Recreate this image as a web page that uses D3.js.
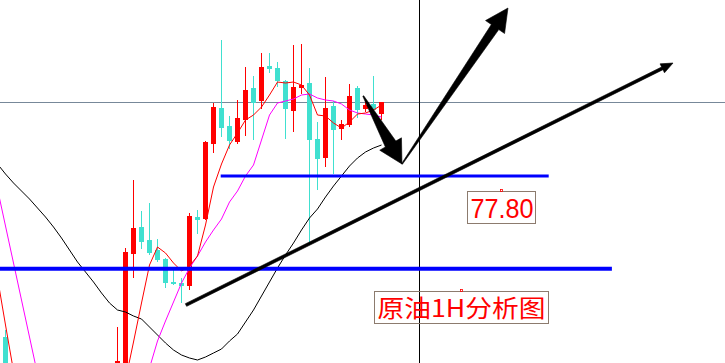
<!DOCTYPE html>
<html>
<head>
<meta charset="utf-8">
<script src="https://cdn.jsdelivr.net/npm/d3@7"></script>
<style>
  body { margin: 0; background: #fff; }
</style>
</head>
<body>
<div id="chart"></div>
<script>
// chart size
const width = 725;
const height = 363;

// 1H bars, oldest first (bar 0 sits just left of the frame)
const opens = [77.38, 76.995, 76.79, 76.63, 76.49, 76.37, 76.33, 76.30, 76.34, 76.29,
  76.35, 76.39, 76.44, 76.48, 76.58, 76.78, 76.83, 77.41, 77.545, 77.48,
  77.43, 77.385, 77.27, 77.265, 77.25, 77.595, 77.585, 77.96, 78.14, 78.05,
  77.97, 78.08, 78.24, 78.175, 78.35, 78.34, 78.275, 78.125, 78.24, 78.265,
  77.985, 77.89, 78.15, 78.035, 78.055, 78.24, 78.135, 78.16, 78.11];
const highs = [77.43, 77.03, 76.82, 76.68, 76.53, 76.43, 76.405, 76.37, 76.39, 76.37,
  76.43, 76.48, 76.53, 76.63, 76.78, 77.045, 77.44, 77.78, 77.625, 77.665,
  77.485, 77.39, 77.345, 77.29, 77.615, 77.63, 77.975, 78.165, 78.48, 78.10,
  78.18, 78.345, 78.30, 78.415, 78.415, 78.37, 78.28, 78.455, 78.46, 78.34,
  78.07, 78.295, 78.175, 78.08, 78.26, 78.25, 78.18, 78.30, 78.17];
const lows = [77.18, 76.755, 76.58, 76.455, 76.33, 76.28, 76.255, 76.23, 76.26, 76.24,
  76.29, 76.33, 76.37, 76.42, 76.54, 76.74, 76.805, 77.29, 77.435, 77.405,
  77.37, 77.24, 77.255, 77.165, 77.23, 77.51, 77.58, 77.915, 77.995, 77.935,
  77.96, 78.00, 77.98, 78.135, 78.315, 78.245, 77.985, 78.02, 78.21, 77.47,
  77.73, 77.845, 77.81, 77.98, 78.045, 78.09, 78.12, 78.095, 78.08];
const closes = [77.22, 76.79, 76.63, 76.49, 76.37, 76.33, 76.30, 76.34, 76.29, 76.35,
  76.39, 76.44, 76.48, 76.58, 76.755, 76.875, 77.42, 77.54, 77.47, 77.415,
  77.38, 77.265, 77.26, 77.25, 77.60, 77.58, 77.97, 78.145, 78.04, 77.975,
  78.09, 78.23, 78.165, 78.345, 78.335, 78.275, 78.135, 78.245, 78.255, 77.98,
  77.885, 78.14, 78.03, 78.06, 78.20, 78.13, 78.155, 78.13, 78.17];

// moving averages
const maFast = [77.29, 77.055, 76.825, 76.63, 76.48, 76.405, 76.355, 76.33, 76.33, 76.34,
  76.37, 76.405, 76.455, 76.52, 76.59, 76.63, 76.78, 76.97, 77.165, 77.355,
  77.445, 77.415, 77.365, 77.325, 77.35, 77.40, 77.555, 77.745, 77.86, 77.955,
  78.015, 78.08, 78.105, 78.145, 78.205, 78.27, 78.265, 78.27, 78.255, 78.205,
  78.105, 78.10, 78.065, 78.04, 78.07, 78.11, 78.115, 78.13, 78.155];
const maMid = [77.735, 77.55, 77.365, 77.18, 76.995, 76.81, 76.655, 76.52, 76.405, 76.32,
  76.26, 76.23, 76.22, 76.23, 76.265, 76.345, 76.455, 76.58, 76.71, 76.84,
  76.975, 77.075, 77.17, 77.265, 77.34, 77.40, 77.47, 77.53, 77.585, 77.67,
  77.725, 77.80, 77.855, 77.98, 78.105, 78.165, 78.175, 78.185, 78.205, 78.21,
  78.19, 78.18, 78.175, 78.16, 78.13, 78.115, 78.11, 78.105, 78.095];
const maSlow = [77.86, 77.81, 77.765, 77.725, 77.685, 77.64, 77.595, 77.545, 77.49, 77.43,
  77.37, 77.32, 77.27, 77.215, 77.165, 77.13, 77.12, 77.10, 77.085, 77.045,
  77.005, 76.965, 76.93, 76.905, 76.89, 76.88, 76.895, 76.915, 76.935, 76.975,
  77.01, 77.07, 77.13, 77.20, 77.27, 77.34, 77.405, 77.465, 77.53, 77.59,
  77.635, 77.695, 77.75, 77.80, 77.85, 77.89, 77.92, 77.94, 77.955];

// levels and annotations, in [bar, price]
const lastPrice = 78.17;
const cursorBar = 52.69;
const supportLine = [[27.9, 77.80], [68.9, 77.80]];
const lowerLine = [[0, 77.3365], [76.8, 77.3365]];
const trendArrow = [[23.56, 77.155], [84.44, 78.365]];
const dropArrow = [[45.72, 78.2], [50.56, 77.86]];
const riseArrow = [[50.56, 77.86], [63.81, 78.64]];
const priceLabel = "77.80";
const priceLabelAt = [58.7, 77.725];
const titleLabel = "原油1H分析图";
const titleLabelAt = [47.05, 77.225];

const upColor = "#ff0000";
const downColor = "#40e0d0";

const x = d3.scaleLinear().domain([0, 90.9375]).range([-2.5, width]);
const y = d3.scaleLinear().domain([76.865, 78.68]).range([height, 0]);

const svg = d3.select("#chart")
  .append("svg")
  .attr("width", width)
  .attr("height", height)
  .style("display", "block");

svg.append("defs").append("clipPath").attr("id", "frame")
  .append("rect").attr("width", width).attr("height", height);

const plot = svg.append("g").attr("clip-path", "url(#frame)");

// horizontal price line and vertical cursor
plot.append("line")
  .attr("x1", 0).attr("x2", width)
  .attr("y1", Math.round(y(lastPrice)) + 0.5).attr("y2", Math.round(y(lastPrice)) + 0.5)
  .attr("stroke", "#778899");

plot.append("line")
  .attr("x1", Math.round(x(cursorBar)) + 0.5).attr("x2", Math.round(x(cursorBar)) + 0.5)
  .attr("y1", 0).attr("y2", height)
  .attr("stroke", "#000");

// candles
const bars = opens.map((o, i) => ({ i, o, h: highs[i], l: lows[i], c: closes[i] }));

const candle = plot.selectAll("g.candle")
  .data(bars)
  .enter()
  .append("g")
  .attr("class", "candle")
  .attr("shape-rendering", "crispEdges");

candle.append("line")
  .attr("x1", (d) => Math.floor(x(d.i)) + 0.5)
  .attr("x2", (d) => Math.floor(x(d.i)) + 0.5)
  .attr("y1", (d) => y(d.h))
  .attr("y2", (d) => y(d.l))
  .attr("stroke", (d) => (d.c >= d.o ? upColor : downColor));

candle.append("rect")
  .attr("x", (d) => Math.floor(x(d.i)) - 2)
  .attr("width", 5)
  .attr("y", (d) => y(Math.max(d.o, d.c)))
  .attr("height", (d) => Math.max(2, Math.abs(y(d.o) - y(d.c))))
  .attr("fill", (d) => (d.c >= d.o ? upColor : downColor));

// moving averages
const maLine = d3.line().x((d, i) => x(i)).y((d) => y(d));
[[maSlow, "#000000"], [maMid, "#ff00ff"], [maFast, "#ff0000"]].forEach(([vals, col]) => {
  plot.append("path")
    .attr("d", maLine(vals))
    .attr("fill", "none")
    .attr("stroke", col)
    .attr("stroke-width", 1);
});

// blue levels
plot.append("line")
  .attr("x1", x(supportLine[0][0])).attr("x2", x(supportLine[1][0]))
  .attr("y1", y(supportLine[0][1])).attr("y2", y(supportLine[1][1]))
  .attr("stroke", "#0000ff").attr("stroke-width", 3);

plot.append("line")
  .attr("x1", x(lowerLine[0][0]) - 5).attr("x2", x(lowerLine[1][0]))
  .attr("y1", y(lowerLine[0][1])).attr("y2", y(lowerLine[1][1]))
  .attr("stroke", "#0000ff").attr("stroke-width", 4);

// tapered arrow polygon
function arrowShape(pts, w0, w1, headLen, headW) {
  const [x0, y0] = [x(pts[0][0]), y(pts[0][1])];
  const [x1, y1] = [x(pts[1][0]), y(pts[1][1])];
  const len = Math.hypot(x1 - x0, y1 - y0);
  const ux = (x1 - x0) / len, uy = (y1 - y0) / len;
  const px = -uy, py = ux;
  const bx = x1 - ux * headLen, by = y1 - uy * headLen;
  return [
    [x0 + px * w0 / 2, y0 + py * w0 / 2],
    [bx + px * w1 / 2, by + py * w1 / 2],
    [bx + px * headW / 2, by + py * headW / 2],
    [x1, y1],
    [bx - px * headW / 2, by - py * headW / 2],
    [bx - px * w1 / 2, by - py * w1 / 2],
    [x0 - px * w0 / 2, y0 - py * w0 / 2],
  ];
}

[
  [trendArrow, 3, 3, 12, 10],
  [dropArrow, 1, 12, 23, 25],
  [riseArrow, 1, 9, 23, 23],
].forEach(([pts, w0, w1, hl, hw]) => {
  plot.append("polygon")
    .attr("points", arrowShape(pts, w0, w1, hl, hw).map((p) => p.join(",")).join(" "))
    .attr("fill", "#000")
    .attr("stroke", "#000")
    .attr("stroke-width", 0.6)
    .attr("stroke-linejoin", "miter");
});

// text labels with boxes
function labelBox(at, w, h, txt, size, textLen, family, base) {
  const bx = Math.round(x(at[0])) + 0.5;
  const by = Math.round(y(at[1])) + 0.5;
  const g = plot.append("g");
  g.append("rect")
    .attr("x", bx).attr("y", by)
    .attr("width", w).attr("height", h)
    .attr("fill", "none")
    .attr("stroke", "#8c7b6e");
  g.append("rect")
    .attr("x", bx + w / 2 - 1).attr("y", by - 2)
    .attr("width", 2).attr("height", 2)
    .attr("fill", "none")
    .attr("stroke", "#ff0000")
    .attr("stroke-width", 0.8);
  g.append("text")
    .attr("x", bx + 3)
    .attr("y", by + base)
    .attr("textLength", textLen)
    .attr("lengthAdjust", "spacingAndGlyphs")
    .attr("font-family", family)
    .attr("font-size", size)
    .attr("fill", "#ff0000")
    .text(txt);
}

labelBox(priceLabelAt, 68, 32, priceLabel, 28, 63, "'Liberation Sans', Arial, sans-serif", 26);
labelBox(titleLabelAt, 174, 32, titleLabel, 24, 168, "'Noto Sans CJK SC', sans-serif", 25);
</script>
</body>
</html>
